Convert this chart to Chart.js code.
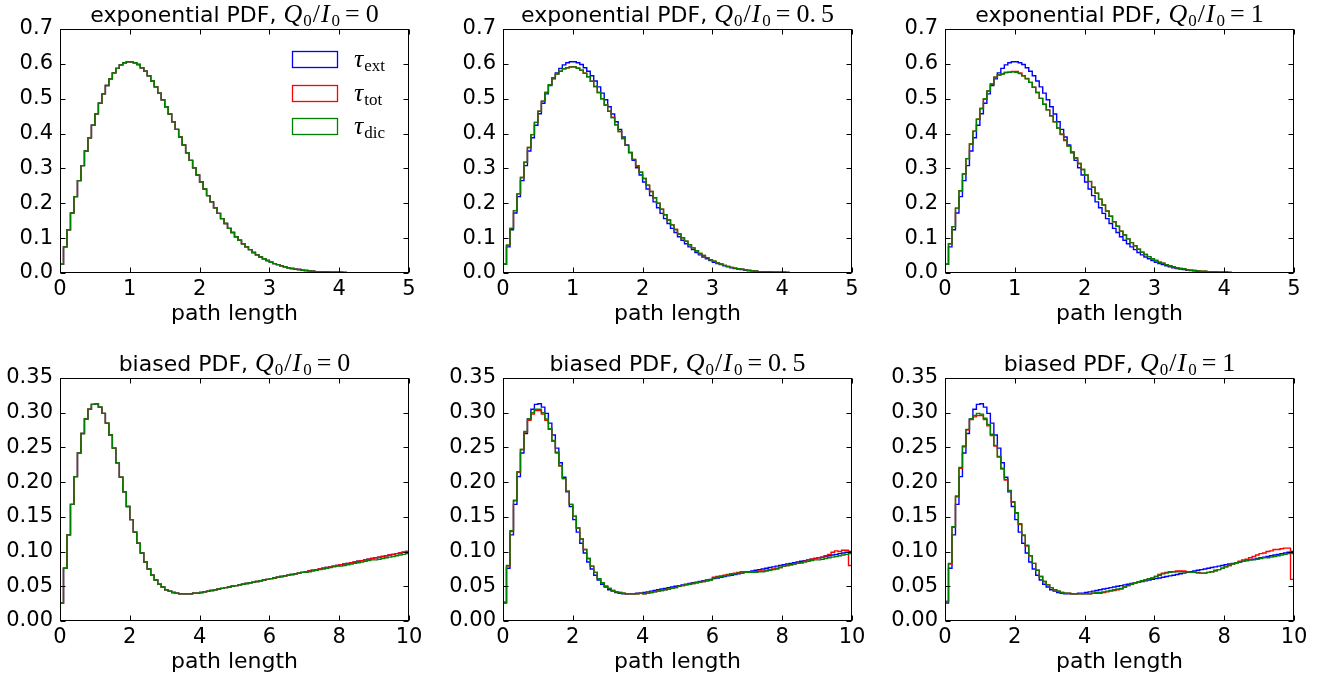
<!DOCTYPE html>
<html>
<head>
<meta charset="utf-8">
<script src="https://cdn.jsdelivr.net/npm/chart.js@4.4.1/dist/chart.umd.min.js"></script>
<style>
  html, body { margin: 0; padding: 0; background: #fff; overflow: hidden; }
  #figure { position: relative; width: 1329px; height: 680px; }
  #figure canvas { position: absolute; }
</style>
</head>
<body>
<div id="figure"></div>
<script>
// ---- axes ----
const expRange = [0, 5];
const biasedRange = [0, 10];
const expXTicks = [0, 1, 2, 3, 4, 5];
const expYTicks = [0, 0.1, 0.2, 0.3, 0.4, 0.5, 0.6, 0.7];
const biasedXTicks = [0, 2, 4, 6, 8, 10];
const biasedYTicks = [0, 0.05, 0.1, 0.15, 0.2, 0.25, 0.3, 0.35];
const qRatios = ['0', '0.5', '1'];

// ---- histogram heights, 100 bins per panel ----
// exponential PDF (bins of 0.05 on 0..5)
const expExt = [
  0.025,0.075,0.124,0.172,0.219,0.265,0.308,0.350,0.388,0.424,
  0.457,0.487,0.514,0.538,0.557,0.574,0.587,0.597,0.603,0.606,
  0.606,0.603,0.598,0.589,0.579,0.566,0.551,0.534,0.516,0.497,
  0.477,0.456,0.434,0.412,0.390,0.367,0.345,0.323,0.302,0.281,
  0.261,0.241,0.222,0.204,0.187,0.171,0.156,0.142,0.128,0.116,
  0.104,0.094,0.084,0.075,0.067,0.059,0.052,0.046,0.041,0.036,
  0.031,0.027,0.024,0.021,0.018,0.015,0.013,0.011,0.010,0.008,
  0.007,0.006,0.005,0.004,0.004,0.003,0.003,0.002,0.002,0.002,
  0.002,0.0015,0.0012,0.001,0.001,0.0008,0.0006,0.0005,0.0004,0.0003,
  0.0002,0.0001,0.0001,0.0001,0,0,0,0,0,0];
const expTotZero = expExt;
const expDicZero = expExt;
const expTotHalf = [
  0.025,0.080,0.128,0.179,0.227,0.274,0.318,0.360,0.397,0.432,
  0.464,0.493,0.518,0.540,0.560,0.571,0.579,0.586,0.589,0.592,
  0.592,0.588,0.582,0.573,0.563,0.550,0.535,0.518,0.500,0.482,
  0.464,0.447,0.425,0.406,0.386,0.366,0.346,0.326,0.306,0.289,
  0.271,0.252,0.234,0.216,0.200,0.183,0.167,0.152,0.138,0.125,
  0.112,0.101,0.091,0.081,0.072,0.064,0.056,0.050,0.044,0.038,
  0.034,0.029,0.026,0.022,0.019,0.016,0.014,0.012,0.011,0.009,
  0.007,0.006,0.005,0.004,0.004,0.003,0.003,0.002,0.002,0.002,
  0.002,0.0015,0.0012,0.001,0.001,0.0008,0.0006,0.0005,0.0004,0.0003,
  0.0002,0.0001,0.0001,0.0001,0,0,0,0,0,0];
const expDicHalf = [
  0.025,0.080,0.128,0.179,0.227,0.274,0.318,0.360,0.397,0.432,
  0.464,0.493,0.518,0.540,0.560,0.571,0.579,0.586,0.589,0.591,
  0.591,0.587,0.582,0.573,0.563,0.550,0.535,0.518,0.500,0.482,
  0.464,0.445,0.425,0.406,0.386,0.366,0.346,0.326,0.308,0.289,
  0.271,0.252,0.234,0.216,0.200,0.183,0.167,0.152,0.138,0.125,
  0.112,0.101,0.091,0.081,0.072,0.064,0.056,0.050,0.044,0.038,
  0.034,0.029,0.026,0.022,0.019,0.016,0.014,0.012,0.011,0.009,
  0.007,0.006,0.005,0.004,0.004,0.003,0.003,0.002,0.002,0.002,
  0.002,0.0015,0.0012,0.001,0.001,0.0008,0.0006,0.0005,0.0004,0.0003,
  0.0002,0.0001,0.0001,0.0001,0,0,0,0,0,0];
const expTotOne = [
  0.025,0.084,0.133,0.186,0.236,0.284,0.328,0.370,0.407,0.441,
  0.472,0.499,0.522,0.542,0.562,0.568,0.571,0.575,0.576,0.578,
  0.578,0.574,0.566,0.558,0.547,0.533,0.518,0.501,0.484,0.468,
  0.451,0.434,0.416,0.397,0.380,0.364,0.347,0.330,0.314,0.297,
  0.281,0.262,0.246,0.229,0.212,0.195,0.178,0.163,0.147,0.134,
  0.120,0.109,0.098,0.087,0.078,0.068,0.060,0.053,0.047,0.041,
  0.036,0.031,0.028,0.024,0.021,0.018,0.015,0.013,0.012,0.009,
  0.008,0.007,0.006,0.005,0.005,0.004,0.003,0.003,0.002,0.002,
  0.002,0.0015,0.0012,0.001,0.001,0.0008,0.0006,0.0005,0.0004,0.0003,
  0.0002,0.0001,0.0001,0.0001,0,0,0,0,0,0];
const expDicOne = [
  0.025,0.084,0.133,0.186,0.236,0.284,0.328,0.370,0.407,0.441,
  0.472,0.499,0.522,0.542,0.562,0.568,0.571,0.575,0.576,0.577,
  0.576,0.572,0.566,0.557,0.547,0.533,0.518,0.501,0.484,0.468,
  0.451,0.434,0.416,0.399,0.382,0.364,0.347,0.330,0.314,0.297,
  0.281,0.263,0.246,0.229,0.212,0.195,0.178,0.163,0.147,0.134,
  0.120,0.109,0.098,0.087,0.078,0.068,0.060,0.053,0.047,0.041,
  0.036,0.031,0.028,0.024,0.021,0.018,0.015,0.013,0.012,0.009,
  0.008,0.007,0.006,0.005,0.005,0.004,0.003,0.003,0.002,0.002,
  0.002,0.0015,0.0012,0.001,0.001,0.0008,0.0006,0.0005,0.0004,0.0003,
  0.0002,0.0001,0.0001,0.0001,0,0,0,0,0,0];

// biased PDF (bins of 0.1 on 0..10)
const biasedExt = [
  0.026,0.076,0.124,0.168,0.208,0.242,0.270,0.291,0.305,0.312,
  0.313,0.308,0.299,0.285,0.268,0.249,0.228,0.207,0.186,0.165,
  0.146,0.128,0.112,0.098,0.085,0.075,0.066,0.059,0.053,0.049,
  0.045,0.043,0.041,0.040,0.039,0.039,0.039,0.039,0.040,0.040,
  0.041,0.042,0.043,0.044,0.045,0.046,0.047,0.048,0.049,0.050,
  0.051,0.052,0.053,0.054,0.055,0.056,0.057,0.058,0.059,0.060,
  0.061,0.062,0.063,0.064,0.065,0.066,0.067,0.068,0.069,0.070,
  0.071,0.072,0.073,0.074,0.075,0.076,0.077,0.078,0.079,0.080,
  0.081,0.082,0.083,0.084,0.085,0.086,0.087,0.088,0.089,0.090,
  0.091,0.092,0.093,0.094,0.095,0.096,0.097,0.098,0.099,0.100];
const biasedTotZero = biasedExt;
const biasedDicZero = [
  0.026,0.076,0.124,0.168,0.208,0.242,0.270,0.291,0.305,0.312,
  0.313,0.308,0.299,0.285,0.268,0.249,0.228,0.207,0.186,0.165,
  0.146,0.128,0.112,0.098,0.085,0.075,0.066,0.059,0.053,0.049,
  0.045,0.043,0.041,0.040,0.039,0.039,0.039,0.039,0.040,0.040,
  0.041,0.042,0.043,0.044,0.045,0.046,0.047,0.048,0.049,0.050,
  0.051,0.052,0.053,0.054,0.055,0.056,0.057,0.058,0.059,0.060,
  0.061,0.062,0.063,0.064,0.065,0.066,0.067,0.068,0.069,0.070,
  0.070,0.071,0.072,0.073,0.074,0.075,0.076,0.077,0.078,0.079,
  0.079,0.080,0.081,0.082,0.083,0.084,0.085,0.086,0.087,0.088,
  0.088,0.089,0.090,0.091,0.092,0.093,0.094,0.095,0.096,0.097];
const biasedTotHalf = [
  0.027,0.079,0.129,0.173,0.214,0.247,0.272,0.289,0.298,0.303,
  0.303,0.298,0.289,0.276,0.259,0.242,0.223,0.205,0.187,0.168,
  0.151,0.134,0.118,0.103,0.090,0.079,0.070,0.061,0.055,0.050,
  0.047,0.044,0.042,0.041,0.040,0.039,0.039,0.039,0.039,0.040,
  0.039,0.040,0.041,0.042,0.043,0.044,0.045,0.046,0.047,0.048,
  0.050,0.051,0.052,0.053,0.054,0.055,0.056,0.057,0.058,0.059,
  0.063,0.064,0.065,0.066,0.067,0.068,0.069,0.070,0.071,0.071,
  0.071,0.071,0.071,0.072,0.072,0.073,0.074,0.075,0.076,0.077,
  0.079,0.080,0.081,0.082,0.083,0.084,0.086,0.088,0.089,0.090,
  0.091,0.092,0.094,0.096,0.099,0.101,0.100,0.102,0.102,0.080];
const biasedDicHalf = [
  0.027,0.080,0.130,0.174,0.215,0.247,0.273,0.291,0.300,0.305,
  0.305,0.300,0.291,0.277,0.260,0.243,0.224,0.205,0.187,0.168,
  0.151,0.134,0.118,0.103,0.090,0.079,0.070,0.061,0.055,0.050,
  0.047,0.044,0.042,0.041,0.040,0.039,0.039,0.039,0.039,0.040,
  0.039,0.040,0.041,0.042,0.043,0.044,0.045,0.046,0.047,0.048,
  0.050,0.051,0.052,0.053,0.054,0.055,0.056,0.057,0.058,0.059,
  0.062,0.063,0.064,0.065,0.066,0.067,0.068,0.069,0.069,0.070,
  0.070,0.070,0.070,0.071,0.071,0.072,0.073,0.074,0.075,0.077,
  0.079,0.080,0.081,0.082,0.083,0.084,0.085,0.086,0.087,0.088,
  0.088,0.089,0.090,0.091,0.092,0.093,0.094,0.095,0.096,0.097];
const biasedTotOne = [
  0.028,0.082,0.135,0.179,0.220,0.251,0.275,0.290,0.294,0.296,
  0.296,0.290,0.281,0.267,0.252,0.236,0.219,0.203,0.187,0.171,
  0.155,0.139,0.123,0.108,0.094,0.083,0.073,0.064,0.057,0.052,
  0.048,0.045,0.043,0.041,0.040,0.040,0.039,0.039,0.039,0.039,
  0.039,0.039,0.040,0.040,0.040,0.041,0.042,0.043,0.044,0.045,
  0.046,0.049,0.051,0.053,0.055,0.056,0.058,0.059,0.061,0.062,
  0.064,0.067,0.069,0.070,0.071,0.071,0.072,0.072,0.072,0.071,
  0.070,0.070,0.070,0.069,0.069,0.070,0.071,0.072,0.074,0.076,
  0.078,0.080,0.082,0.084,0.086,0.088,0.089,0.091,0.093,0.095,
  0.097,0.098,0.100,0.101,0.103,0.103,0.104,0.105,0.105,0.060];
const biasedDicOne = [
  0.028,0.083,0.136,0.180,0.221,0.252,0.276,0.291,0.296,0.299,
  0.298,0.292,0.283,0.269,0.253,0.237,0.220,0.204,0.188,0.172,
  0.156,0.140,0.124,0.109,0.094,0.083,0.073,0.064,0.057,0.052,
  0.048,0.045,0.043,0.041,0.040,0.040,0.039,0.039,0.039,0.039,
  0.039,0.039,0.040,0.041,0.041,0.042,0.043,0.044,0.045,0.046,
  0.047,0.049,0.051,0.053,0.055,0.056,0.058,0.059,0.061,0.062,
  0.064,0.066,0.068,0.069,0.070,0.071,0.071,0.071,0.071,0.071,
  0.070,0.070,0.069,0.069,0.069,0.070,0.071,0.073,0.074,0.076,
  0.078,0.080,0.082,0.084,0.085,0.086,0.087,0.088,0.088,0.089,
  0.090,0.091,0.091,0.092,0.093,0.094,0.095,0.096,0.097,0.097];

// ---- layout ----
const SANS = '"DejaVu Sans", sans-serif';
const SERIF = '"Liberation Serif", serif';
const colLeft = [60, 503, 945];
const plotW = 349;
const rows = [
  { name: 'exponential', range: expRange, xTicks: expXTicks, yTicks: expYTicks, digits: 1, top: 29, height: 244 },
  { name: 'biased', range: biasedRange, xTicks: biasedXTicks, yTicks: biasedYTicks, digits: 2, top: 378, height: 243 }
];
const seriesStyle = [
  { sub: 'ext', color: '#0000ff' },
  { sub: 'tot', color: '#ff0000' },
  { sub: 'dic', color: '#008000' }
];
const panels = [
  { row: 0, col: 0, series: [expExt, expTotZero, expDicZero], legend: true },
  { row: 0, col: 1, series: [expExt, expTotHalf, expDicHalf] },
  { row: 0, col: 2, series: [expExt, expTotOne, expDicOne] },
  { row: 1, col: 0, series: [biasedExt, biasedTotZero, biasedDicZero] },
  { row: 1, col: 1, series: [biasedExt, biasedTotHalf, biasedDicHalf] },
  { row: 1, col: 2, series: [biasedExt, biasedTotOne, biasedDicOne] }
];

Chart.defaults.font.family = SANS;
Chart.defaults.color = '#000';

// histogram outline: up at the left edge, steps, down at the right edge
function stepPoints(values, range) {
  const w = (range[1] - range[0]) / values.length;
  const pts = [{ x: range[0], y: 0 }];
  values.forEach((v, i) => pts.push({ x: range[0] + i * w, y: v }));
  pts.push({ x: range[1], y: 0 });
  return pts;
}

// write a row of text pieces centred on cx
function drawRuns(ctx, runs, cx, baseline) {
  let total = 0;
  runs.forEach(r => {
    ctx.font = r.font;
    r.w = (r.pre || 0) + ctx.measureText(r.text).width + (r.gap || 0);
    total += r.w;
  });
  let x = cx - total / 2;
  runs.forEach(r => {
    ctx.font = r.font;
    ctx.fillText(r.text, x + (r.pre || 0), baseline + (r.dy || 0));
    x += r.w;
  });
}

// frame + inward ticks on all four sides
const framePlugin = {
  id: 'frame',
  afterDatasetsDraw(chart) {
    const { ctx, chartArea: a, scales: { x, y } } = chart;
    const L = Math.round(a.left) + 0.5, R = Math.round(a.right) - 0.5;
    const T = Math.round(a.top) + 0.5, B = Math.round(a.bottom) - 0.5;
    ctx.save();
    ctx.strokeStyle = '#000';
    ctx.lineWidth = 1;
    ctx.beginPath();
    x.ticks.forEach(t => {
      const px = Math.round(x.getPixelForValue(t.value)) + 0.5;
      ctx.moveTo(px, B); ctx.lineTo(px, B - 5);
      ctx.moveTo(px, T); ctx.lineTo(px, T + 5);
    });
    y.ticks.forEach(t => {
      const py = Math.round(y.getPixelForValue(t.value)) + 0.5;
      ctx.moveTo(L, py); ctx.lineTo(L + 5, py);
      ctx.moveTo(R, py); ctx.lineTo(R - 5, py);
    });
    ctx.stroke();
    ctx.strokeRect(L, T, R - L, B - T);
    ctx.restore();
  }
};

// title with Q_0/I_0 = q
const titlePlugin = {
  id: 'mathTitle',
  afterDraw(chart, args, opts) {
    const { ctx, chartArea: a } = chart;
    const sub = '17px ' + SERIF, it = 'italic 26px ' + SERIF, up = '26px ' + SERIF;
    const runs = [
      { text: opts.name + ' PDF, ', font: '22px ' + SANS },
      { text: 'Q', font: it, gap: 1 },
      { text: '0', font: sub, dy: 4, gap: 1 },
      { text: '/', font: up, gap: 1 },
      { text: 'I', font: it, gap: 2 },
      { text: '0', font: sub, dy: 4 },
      { text: '=', font: up, pre: 5, gap: 6 }
    ];
    const parts = opts.q.split('.');
    if (parts.length > 1) {
      runs.push({ text: parts[0] + '.', font: up, gap: 5 });
      runs.push({ text: parts[1], font: up });
    } else {
      runs.push({ text: opts.q, font: up });
    }
    ctx.save();
    ctx.fillStyle = '#000';
    ctx.textBaseline = 'alphabetic';
    ctx.textAlign = 'left';
    drawRuns(ctx, runs, (a.left + a.right) / 2, a.top - 7);
    ctx.restore();
  }
};

// unfilled boxes with tau labels, upper right inside the axes
const legendPlugin = {
  id: 'tauLegend',
  afterDraw(chart, args, opts) {
    if (!opts.show) return;
    const { ctx, chartArea: a } = chart;
    ctx.save();
    ctx.textAlign = 'left';
    ctx.textBaseline = 'alphabetic';
    seriesStyle.forEach((s, k) => {
      const bx = a.left + 232, by = a.top + 22 + k * 33.5;
      ctx.strokeStyle = s.color;
      ctx.lineWidth = 1.3;
      ctx.strokeRect(bx + 0.5, Math.round(by) + 0.5, 45, 16);
      ctx.fillStyle = '#000';
      ctx.font = 'italic 26px ' + SERIF;
      const tx = a.left + 294;
      ctx.fillText('\u03c4', tx, by + 16);
      const tw = ctx.measureText('\u03c4').width;
      ctx.font = '17px ' + SERIF;
      ctx.fillText(s.sub, tx + tw + 1, by + 20);
    });
    ctx.restore();
  }
};

const fig = document.getElementById('figure');

panels.forEach(p => {
  const row = rows[p.row];
  const padTop = 30, axisW = 60, axisH = 58, padRight = 20;
  const cw = axisW + plotW + padRight;
  const ch = padTop + row.height + axisH;
  const canvas = document.createElement('canvas');
  canvas.width = cw;
  canvas.height = ch;
  canvas.style.left = (colLeft[p.col] - axisW) + 'px';
  canvas.style.top = (row.top - padTop) + 'px';
  canvas.style.width = cw + 'px';
  canvas.style.height = ch + 'px';
  fig.appendChild(canvas);

  new Chart(canvas, {
    type: 'line',
    data: {
      datasets: seriesStyle.map((s, k) => ({
        label: s.sub,
        data: stepPoints(p.series[k], row.range),
        borderColor: s.color,
        borderWidth: 1.4,
        pointRadius: 0,
        stepped: true,
        fill: false,
        tension: 0,
        order: 3 - k
      }))
    },
    options: {
      responsive: false,
      animation: false,
      events: [],
      layout: { padding: { top: padTop, right: padRight, left: 0, bottom: 0 } },
      scales: {
        x: {
          type: 'linear',
          min: row.range[0],
          max: row.range[1],
          afterFit: s => { s.height = axisH; },
          afterBuildTicks: s => { s.ticks = row.xTicks.map(v => ({ value: v })); },
          ticks: { font: { size: 21 }, color: '#000', padding: 4, maxRotation: 0, autoSkip: false,
                   callback: v => String(v) },
          grid: { display: false, drawTicks: false },
          border: { display: false },
          title: { display: true, text: 'path length', color: '#000',
                   font: { size: 22 }, padding: { top: 0, bottom: 4 } }
        },
        y: {
          type: 'linear',
          min: 0,
          max: row.yTicks[row.yTicks.length - 1],
          afterFit: s => { s.width = axisW; },
          afterBuildTicks: s => { s.ticks = row.yTicks.map(v => ({ value: v })); },
          ticks: { font: { size: 21 }, color: '#000', padding: 7, autoSkip: false,
                   callback: v => Number(v).toFixed(row.digits) },
          grid: { display: false, drawTicks: false },
          border: { display: false }
        }
      },
      plugins: {
        legend: { display: false },
        tooltip: { enabled: false },
        mathTitle: { name: row.name, q: qRatios[p.col] },
        tauLegend: { show: !!p.legend }
      }
    },
    plugins: [framePlugin, titlePlugin, legendPlugin]
  });
});
</script>
</body>
</html>
